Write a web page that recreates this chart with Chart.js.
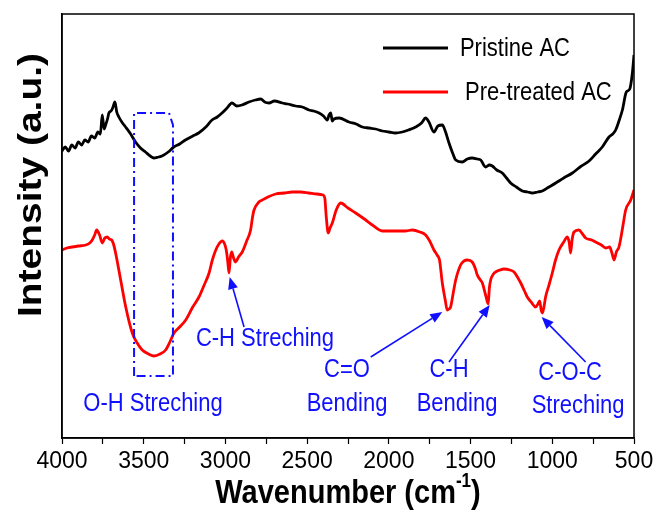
<!DOCTYPE html>
<html>
<head>
<meta charset="utf-8">
<script src="https://cdn.jsdelivr.net/npm/chart.js@4/dist/chart.umd.min.js"></script>
<style>
html,body{margin:0;padding:0;background:#fff;}
#wrap{width:662px;height:516px;}
</style>
</head>
<body>
<div id="wrap"><canvas id="c" width="662" height="516"></canvas></div>
<script>
// ---- Data (wavenumber in cm^-1, intensity in a.u.) ----
const pristineWn  = [4000,3980,3960,3940,3920,3900,3880,3860,3840,3820,3800,3780,3765,3754,3742,3733,3720,3713,3700,3690,3676,3665,3652,3630,3611,3580,3550,3520,3489,3460,3438,3410,3388,3350,3316,3280,3245,3200,3164,3120,3082,3050,3021,2990,2960,2930,2899,2856,2817,2784,2760,2733,2700,2652,2620,2570,2530,2489,2460,2427,2400,2377,2366,2356,2346,2336,2305,2244,2200,2162,2120,2081,2040,2000,1960,1918,1880,1836,1800,1775,1755,1724,1700,1673,1655,1632,1610,1591,1551,1520,1490,1460,1438,1408,1385,1367,1340,1306,1280,1255,1220,1183,1150,1122,1090,1061,1020,979,930,877,830,775,735,694,653,630,612,590,571,547,526,510,500];
const pristineVal = [287,291,287,293,290,296,293,298,296,302,300,306,304,323,309,313,320,325,327,330,336,326,321,315,311,304,296,290,286,282,280,281,282,286,291,294,298,302,305,311,318,321,325,330,335,332,333,336,338,339,336,335,337,335,334,332,331,328,327,325,322,318,323,325,317,319,320,316,314,311,310,309,307,306,305,306,308,311,315,320,316,306,312,313,307,295,285,278,276,279,280,279,278,271,273,272,268,265,260,255,251,247,246,245,246,247,251,255,260,265,271,277,284,291,301,304,308,318,328,346,349,365,383];

const pretreatedWn  = [4000,3970,3937,3900,3855,3830,3815,3800,3788,3770,3753,3738,3723,3710,3696,3685,3672,3641,3610,3570,3540,3509,3470,3437,3400,3366,3340,3315,3280,3243,3200,3162,3130,3100,3080,3059,3040,3019,3005,2995,2986,2978,2970,2962,2950,2938,2920,2897,2870,2846,2835,2825,2795,2774,2740,2693,2640,2591,2540,2489,2440,2403,2392,2383,2371,2360,2346,2322,2295,2250,2203,2150,2101,2040,1990,1938,1900,1856,1810,1775,1750,1724,1705,1690,1673,1655,1643,1632,1622,1605,1591,1561,1540,1520,1490,1470,1459,1440,1428,1408,1392,1385,1377,1360,1347,1320,1296,1260,1234,1210,1193,1170,1153,1125,1102,1088,1077,1068,1061,1050,1041,1020,1000,980,959,930,908,896,888,878,867,837,815,796,760,735,700,673,649,635,622,608,592,570,551,520,500];
const pretreatedVal = [188,190,191,192,193,195,198,203,208,203,195,200,201,199,198,194,185,158,131,105,95,88,84,82,84,88,96,105,111,118,131,141,153,165,178,188,194,197,194,188,177,165,180,186,180,176,181,186,197,208,220,228,236,238,241,244,245,246,246,245,244,243,240,221,205,210,215,228,235,230,225,219,213,207,207,207,207,208,206,203,197,188,183,178,155,138,128,129,131,146,158,173,177,178,176,169,163,158,155,143,134,150,158,164,166,168,169,168,166,160,155,147,141,135,131,134,137,128,125,132,141,153,165,178,188,196,201,195,185,199,206,208,204,200,198,196,193,190,191,185,178,186,191,210,228,238,248];

// ---- Annotations (in wavenumber / intensity units) ----
const seriesNames  = ['Pristine AC', 'Pre-treated AC'];
const annoTexts    = ['O-H Streching','C-H Streching','C=O','Bending','C-H','Bending','C-O-C','Streching'];
const annoWn       = [3443, 2758, 2256, 2256, 1632, 1583, 891, 842];
const annoVal      = [27, 92, 61, 27, 61, 27, 58, 25];
// arrows: tail (wn,val) -> tip (wn,val)
const arrowTailWn  = [2886, 2111, 1632, 796];
const arrowTailVal = [111, 81, 76, 76];
const arrowTipWn   = [2974, 1673, 1383, 1065];
const arrowTipVal  = [161, 126, 133, 121];
// O-H region box
const boxWn  = [3559, 3345, 3321];
const boxVal = [325, 313, 62];

const FONT = '"Liberation Sans", Arial, sans-serif';
const BLUE = '#1010ff';

function toXY(wn, val){ return wn.map((w,i)=>({x:w, y:val[i]})); }

function stretchedText(ctx, text, x, y, font, color, align, sy){
  ctx.save();
  ctx.translate(x, y);
  ctx.scale(1, sy);
  ctx.font = font;
  ctx.fillStyle = color;
  ctx.textAlign = align;
  ctx.textBaseline = 'alphabetic';
  ctx.fillText(text, 0, 0);
  ctx.restore();
}

const decor = {
  id: 'decor',
  afterDraw(chart){
    const ctx = chart.ctx, xs = chart.scales.x, ys = chart.scales.y, a = chart.chartArea;
    const px = v => xs.getPixelForValue(v), py = v => ys.getPixelForValue(v);
    // frame
    ctx.save();
    ctx.strokeStyle = '#000'; ctx.lineWidth = 1.5;
    ctx.strokeRect(a.left, a.top, a.right - a.left, a.bottom - a.top);
    ctx.restore();

    // legend
    const legY = [py(390), py(346)];
    chart.data.datasets.forEach((ds, i) => {
      ctx.save();
      ctx.strokeStyle = ds.borderColor; ctx.lineWidth = 2.8;
      ctx.beginPath(); ctx.moveTo(px(2036), legY[i]); ctx.lineTo(px(1638), legY[i]); ctx.stroke();
      ctx.restore();
      stretchedText(ctx, ds.label, px(i === 0 ? 1565 : 1534), legY[i] + 8, '22px ' + FONT, '#000', 'left', 1.15);
    });

    // box (dash-dot)
    ctx.save();
    ctx.strokeStyle = BLUE; ctx.lineWidth = 2;
    ctx.setLineDash([9, 4, 2, 4]);
    ctx.beginPath();
    ctx.moveTo(px(boxWn[0]), py(boxVal[2]));
    ctx.lineTo(px(boxWn[0]), py(boxVal[0]));
    ctx.lineTo(px(boxWn[1]), py(boxVal[0]));
    ctx.lineTo(px(boxWn[2]), py(boxVal[1]));
    ctx.lineTo(px(boxWn[2]), py(boxVal[2]));
    ctx.closePath();
    ctx.stroke();
    ctx.restore();

    // arrows
    for (let i = 0; i < arrowTipWn.length; i++) {
      const x1 = px(arrowTailWn[i]), y1 = py(arrowTailVal[i]);
      const x2 = px(arrowTipWn[i]),  y2 = py(arrowTipVal[i]);
      const ang = Math.atan2(y2 - y1, x2 - x1), L = 12, W = 5;
      const bx = x2 - L * Math.cos(ang), by = y2 - L * Math.sin(ang);
      ctx.save();
      ctx.strokeStyle = BLUE; ctx.fillStyle = BLUE; ctx.lineWidth = 1.6;
      ctx.beginPath(); ctx.moveTo(x1, y1); ctx.lineTo(bx, by); ctx.stroke();
      ctx.beginPath();
      ctx.moveTo(x2, y2);
      ctx.lineTo(bx + W * Math.sin(ang), by - W * Math.cos(ang));
      ctx.lineTo(bx - W * Math.sin(ang), by + W * Math.cos(ang));
      ctx.closePath(); ctx.fill();
      ctx.restore();
    }

    // annotation labels
    annoTexts.forEach((t, i) => {
      stretchedText(ctx, t, px(annoWn[i]), py(annoVal[i]), '22px ' + FONT, BLUE, 'center', 1.15);
    });

    // x title with superscript
    ctx.save();
    const tY = 503;
    ctx.font = 'bold 29px ' + FONT;
    const main = 'Wavenumber (cm', sup = '-1', close = ')';
    const wMain = ctx.measureText(main).width;
    ctx.font = 'bold 17px ' + FONT;
    const wSup = ctx.measureText(sup).width;
    ctx.font = 'bold 29px ' + FONT;
    const wClose = ctx.measureText(close).width;
    const cx = (a.left + a.right) / 2;
    let sx = cx - (wMain + wSup + wClose) / 2;
    ctx.restore();
    stretchedText(ctx, main, sx, tY, 'bold 29px ' + FONT, '#000', 'left', 1.15);
    stretchedText(ctx, sup, sx + wMain, tY - 16, 'bold 17px ' + FONT, '#000', 'left', 1.15);
    stretchedText(ctx, close, sx + wMain + wSup, tY, 'bold 29px ' + FONT, '#000', 'left', 1.15);

    // y title
    ctx.save();
    ctx.translate(41, 185);
    ctx.rotate(-Math.PI / 2);
    ctx.scale(1.18, 1);
    ctx.font = 'bold 33px ' + FONT;
    ctx.fillStyle = '#000';
    ctx.textAlign = 'center';
    ctx.textBaseline = 'alphabetic';
    ctx.fillText('Intensity (a.u.)', 0, 0);
    ctx.restore();
  }
};

new Chart(document.getElementById('c'), {
  type: 'line',
  data: {
    datasets: [
      { label: seriesNames[0], data: toXY(pristineWn, pristineVal), borderColor: '#000000', borderWidth: 2.8, pointRadius: 0, tension: 0.3, cubicInterpolationMode: 'monotone', fill: false },
      { label: seriesNames[1], data: toXY(pretreatedWn, pretreatedVal), borderColor: '#ff0000', borderWidth: 2.8, pointRadius: 0, tension: 0.3, cubicInterpolationMode: 'monotone', fill: false }
    ]
  },
  options: {
    responsive: false,
    animation: false,
    layout: { padding: { left: 0, right: 28, top: 14, bottom: 0 } },
    plugins: { legend: { display: false }, tooltip: { enabled: false } },
    scales: {
      x: {
        type: 'linear', reverse: true, min: 500, max: 4000,
        afterFit: s => { s.height = 78; },
        border: { display: true, color: '#000', width: 1.5 },
        grid: { drawOnChartArea: false, drawTicks: true, tickLength: 6, color: '#000', tickWidth: 1.2 },
        ticks: {
          stepSize: 250, autoSkip: false, maxRotation: 0, padding: 4, color: '#000',
          font: { family: FONT, size: 23 },
          callback: v => (v % 500 === 0 ? String(v) : '')
        },
        title: { display: false }
      },
      y: {
        min: 0, max: 424,
        afterFit: s => { s.width = 62; },
        border: { display: true, color: '#000', width: 1.5 },
        grid: { display: false },
        ticks: { display: false },
        title: { display: false }
      }
    }
  },
  plugins: [decor]
});
</script>
</body>
</html>
